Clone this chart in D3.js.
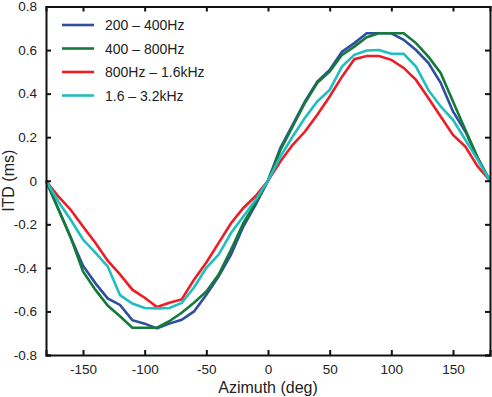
<!DOCTYPE html>
<html>
<head>
<meta charset="utf-8">
<script src="https://cdn.jsdelivr.net/npm/d3@7"></script>
<style>
  body { margin: 0; background: #fff; }
  svg text { font-family: "Liberation Sans", Arial, sans-serif; fill: #222; }
</style>
</head>
<body>
<div id="chart"></div>
<script>
const azimuth = [-180, -170, -160, -150, -140, -130, -120, -110, -100, -90, -80, -70, -60, -50, -40, -30, -20, -10,
  0, 10, 20, 30, 40, 50, 60, 70, 80, 90, 100, 110, 120, 130, 140, 150, 160, 170, 180];

const band200 = [0, -0.13, -0.26, -0.39, -0.47, -0.54, -0.57, -0.64, -0.656, -0.678, -0.656, -0.638, -0.60, -0.523, -0.439, -0.339, -0.21, -0.11,
  0, 0.15, 0.257, 0.364, 0.455, 0.509, 0.593, 0.632, 0.677, 0.677, 0.677, 0.647, 0.60, 0.541, 0.45, 0.318, 0.226, 0.105, 0];
const band400 = [0, -0.13, -0.26, -0.416, -0.50, -0.573, -0.622, -0.675, -0.675, -0.675, -0.645, -0.606, -0.56, -0.508, -0.431, -0.317, -0.195, -0.10,
  0, 0.14, 0.249, 0.358, 0.45, 0.501, 0.578, 0.616, 0.659, 0.677, 0.677, 0.677, 0.632, 0.57, 0.495, 0.364, 0.234, 0.105, 0];
const band800 = [0, -0.072, -0.133, -0.21, -0.285, -0.367, -0.43, -0.50, -0.537, -0.58, -0.56, -0.545, -0.454, -0.375, -0.285, -0.195, -0.125, -0.07,
  0, 0.088, 0.165, 0.226, 0.303, 0.387, 0.478, 0.558, 0.573, 0.573, 0.555, 0.518, 0.463, 0.38, 0.295, 0.21, 0.157, 0.066, 0];
const band1600 = [0, -0.095, -0.179, -0.27, -0.33, -0.393, -0.525, -0.564, -0.584, -0.586, -0.584, -0.561, -0.49, -0.40, -0.339, -0.24, -0.164, -0.087,
  0, 0.111, 0.203, 0.289, 0.364, 0.417, 0.524, 0.578, 0.598, 0.60, 0.583, 0.583, 0.524, 0.417, 0.341, 0.28, 0.188, 0.096, 0];

const seriesNames = ['200 \u2013 400Hz', '400 \u2013 800Hz', '800Hz \u2013 1.6kHz', '1.6 \u2013 3.2kHz'];
const seriesColors = ['#2f4ea2', '#137a3a', '#ee1c25', '#1fbfbf'];
const xTicks = [-150, -100, -50, 0, 50, 100, 150];
const yTicks = [-0.8, -0.6, -0.4, -0.2, 0, 0.2, 0.4, 0.6, 0.8];

const width = 492, height = 397;
const margin = { top: 6.5, right: 2, bottom: 42, left: 46 };

const svg = d3.select('#chart').append('svg')
  .attr('width', width).attr('height', height);

const x = d3.scaleLinear().domain([-180, 180]).range([margin.left, width - margin.right]);
const y = d3.scaleLinear().domain([-0.8, 0.8]).range([height - margin.bottom, margin.top]);

// curves
const line = d3.line().x((d, i) => x(azimuth[i])).y(d => y(d));
[band200, band400, band800, band1600].forEach((vals, i) => {
  svg.append('path').datum(vals)
    .attr('d', line)
    .attr('fill', 'none')
    .attr('stroke', seriesColors[i])
    .attr('stroke-width', 2.6)
    .attr('stroke-linejoin', 'miter');
});

// frame with inward ticks
const tk = 5;
const fmtY = d => d === 0 ? '0' : d.toFixed(1);
const axB = svg.append('g').attr('transform', `translate(0,${y(-0.8)})`)
  .call(d3.axisBottom(x).tickValues(xTicks).tickSize(-tk).tickPadding(9).tickFormat(d => String(d)));
const axT = svg.append('g').attr('transform', `translate(0,${y(0.8)})`)
  .call(d3.axisTop(x).tickValues(xTicks).tickSize(-tk).tickFormat(''));
const axL = svg.append('g').attr('transform', `translate(${x(-180)},0)`)
  .call(d3.axisLeft(y).tickValues(yTicks).tickSize(-tk).tickPadding(9).tickFormat(fmtY));
const axR = svg.append('g').attr('transform', `translate(${x(180)},0)`)
  .call(d3.axisRight(y).tickValues(yTicks).tickSize(-tk).tickFormat(''));

[axB, axT, axL, axR].forEach(ax => {
  ax.select('.domain').attr('stroke', '#111').attr('stroke-width', 2);
  ax.selectAll('.tick line').attr('stroke', '#111').attr('stroke-width', 2);
  ax.selectAll('.tick text').attr('font-size', '13.5px').attr('fill', '#222')
    .attr('font-family', '"Liberation Sans", Arial, sans-serif');
});

// axis labels
svg.append('text').attr('x', x(0)).attr('y', 393)
  .attr('text-anchor', 'middle').attr('font-size', '16px').text('Azimuth (deg)');
svg.append('text')
  .attr('transform', `translate(14,${y(0)}) rotate(-90)`)
  .attr('text-anchor', 'middle').attr('font-size', '16px').text('ITD (ms)');

// legend
const leg = svg.append('g').attr('transform', 'translate(62,25)');
seriesNames.forEach((name, i) => {
  leg.append('line').attr('x1', 0).attr('x2', 32)
    .attr('y1', i * 23.5).attr('y2', i * 23.5)
    .attr('stroke', seriesColors[i]).attr('stroke-width', 2.6);
  leg.append('text').attr('x', 43).attr('y', i * 23.5 + 5)
    .attr('font-size', '14px').text(name);
});
</script>
</body>
</html>
